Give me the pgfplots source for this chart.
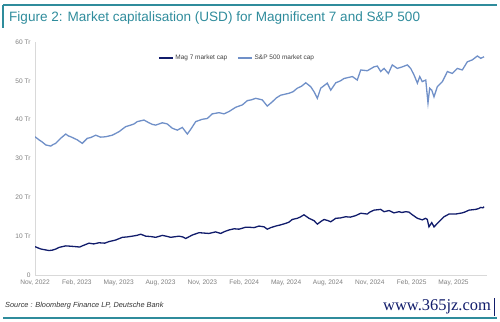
\documentclass[border=0pt]{standalone}
\usepackage{fontspec}
\setmainfont{Liberation Sans}
\newfontfamily\wmfont{Liberation Serif}
\usepackage{pgfplots}
\pgfplotsset{compat=1.18}
\definecolor{teal1}{HTML}{2F8C9C}
\definecolor{navy}{HTML}{111C6B}
\definecolor{spblue}{HTML}{7090C8}
\definecolor{axgray}{HTML}{D9D9D9}
\definecolor{txgray}{HTML}{7F7F7F}
\begin{document}
\begin{tikzpicture}
\useasboundingbox (0bp,0bp) rectangle (500bp,322bp);
% frame
\draw[teal1,line width=1.2bp] (3bp,317bp) -- (497bp,317bp);
\draw[teal1,line width=1.8bp] (3bp,317bp) -- (3bp,294bp);
\draw[teal1,line width=1.2bp] (3bp,4bp) -- (497bp,4bp);
\node[anchor=west,text=teal1,font=\fontsize{13.6}{15}\selectfont,inner sep=0] at (9bp,304bp) {Figure 2: Market capitalisation (USD) for Magnificent 7 and S\&P 500};
\node[anchor=west,font=\fontsize{7.4}{8}\selectfont\itshape,text=black!80,inner sep=0] at (5bp,16bp) {Source : Bloomberg Finance LP, Deutsche Bank};
\node[anchor=east,font=\wmfont\fontsize{16.5}{18}\selectfont,text=navy,inner sep=0] at (491bp,15bp) {www.365jz.com};
\draw[navy,line width=1bp] (494bp,6bp) -- (494bp,24bp);
\begin{axis}[
  at={(35bp,47bp)}, anchor=south west,
  scale only axis, width=452bp, height=233bp,
  xmin=0, xmax=32.4, ymin=0, ymax=60,
  axis x line*=bottom, axis y line*=left,
  axis line style={axgray, line width=0.6bp},
  xtick={0,3,...,30},
  xticklabels={{Nov, 2022},{Feb, 2023},{May, 2023},{Aug, 2023},{Nov, 2023},{Feb, 2024},{May, 2024},{Aug, 2024},{Nov, 2024},{Feb, 2025},{May, 2025}},
  ytick={0,10,...,60},
  yticklabels={0,10 Tr,20 Tr,30 Tr,40 Tr,50 Tr,60 Tr},
  tick style={draw=none},
  ticklabel style={font=\fontsize{6.6}{7}\selectfont, text=txgray},
  /pgf/number format/assume math mode=true,
  xticklabel style={yshift=-1bp},
  yticklabel style={xshift=-1bp},
  legend columns=2,
  legend style={at={(0.447,0.931)}, anchor=center, draw=none, fill=none,
    font=\fontsize{6.5}{7}\selectfont, text=black!75,
    /tikz/every even column/.append style={column sep=8bp}},
  legend image code/.code={\draw[#1,line width=1.4bp] (0,0) -- (14bp,0);},
]
\addplot[navy, line width=1.3bp] coordinates {
(0,7.3)(0.2,7.0)(0.41,6.7)(0.7,6.5)(1.00,6.3)(1.24,6.4)(1.5,6.7)(1.72,7.1)(2.20,7.5)(2.6,7.4)(2.92,7.3)(3.2,7.2)(3.39,7.5)(3.87,8.2)(4.2,8.0)(4.59,8.3)(5.0,8.2)(5.30,8.6)(5.78,9.0)(6.26,9.7)(6.6,9.8)(6.97,10.0)(7.3,10.2)(7.58,10.5)(7.94,10.0)(8.3,9.9)(8.65,9.7)(9.13,10.2)(9.4,10.0)(9.73,9.7)(10.32,10.0)(10.6,9.8)(10.80,9.4)(11.28,10.3)(11.76,10.9)(12.1,10.8)(12.47,10.7)(12.95,11.1)(13.31,10.7)(13.6,11.2)(13.91,11.6)(14.27,11.9)(14.62,11.8)(15.10,12.3)(15.34,12.3)(15.7,12.2)(16.06,12.6)(16.42,12.4)(16.65,11.8)(16.9,12.2)(17.25,12.6)(17.6,12.9)(17.97,13.3)(18.2,13.6)(18.44,14.3)(18.80,14.6)(19.0,14.9)(19.28,15.5)(19.64,14.6)(20.00,14.0)(20.24,13.1)(20.5,13.8)(20.72,14.3)(21.0,14.0)(21.20,13.7)(21.56,14.6)(21.9,14.7)(22.27,15.0)(22.6,14.9)(22.99,15.3)(23.35,15.9)(23.82,15.7)(24.0,16.2)(24.30,16.7)(24.78,16.9)(25.02,16.3)(25.38,16.6)(25.73,16.0)(26.09,16.3)(26.3,16.1)(26.57,16.3)(26.8,16.2)(27.05,15.5)(27.41,14.6)(27.76,14.2)(28.0,14.6)(28.12,14.3)(28.24,12.4)(28.44,13.5)(28.60,12.4)(28.96,13.7)(29.32,15.0)(29.68,15.7)(30.16,15.7)(30.63,16.0)(30.8,16.2)(31.11,16.7)(31.59,16.9)(31.8,17.1)(31.95,17.4)(32.1,17.3)(32.19,17.6)
};
\addlegendentry{Mag 7 market cap}
\addplot[spblue, line width=1.3bp] coordinates {
(0,35.6)(0.29,34.8)(0.5,34.3)(0.77,33.5)(1.13,33.2)(1.3,33.6)(1.48,33.9)(1.84,35.2)(2.20,36.3)(2.4,35.8)(2.56,35.6)(3.03,34.8)(3.39,33.9)(3.75,35.2)(4.0,35.4)(4.35,36.0)(4.7,35.5)(5.07,35.6)(5.3,35.8)(5.54,36.0)(6.02,36.9)(6.50,38.2)(6.86,38.6)(7.1,38.9)(7.33,39.5)(7.81,39.9)(8.17,39.2)(8.4,38.8)(8.65,38.6)(9.13,39.2)(9.48,38.9)(9.84,37.8)(10.20,37.3)(10.56,38.0)(10.92,36.3)(11.16,37.5)(11.52,39.5)(11.99,40.1)(12.35,40.3)(12.71,41.5)(13.19,41.8)(13.55,41.5)(13.91,42.1)(14.39,43.2)(14.86,43.8)(15.22,44.9)(15.5,45.1)(15.82,45.5)(16.29,45.1)(16.65,43.5)(17.01,44.6)(17.3,45.6)(17.61,46.3)(18.21,46.8)(18.5,47.2)(18.80,48.1)(19.1,48.6)(19.41,49.5)(19.76,48.5)(20.00,47.2)(20.24,45.5)(20.48,48.1)(20.95,49.4)(21.20,47.6)(21.56,49.5)(21.9,50.0)(22.15,50.6)(22.75,51.1)(23.10,50.2)(23.35,52.8)(23.82,52.6)(24.30,53.6)(24.54,53.8)(24.78,52.4)(25.02,53.2)(25.33,51.9)(25.61,54.1)(25.97,53.2)(26.33,53.6)(26.69,54.1)(26.93,53.2)(27.17,51.5)(27.41,49.4)(27.58,51.1)(27.76,49.8)(28.01,50.2)(28.17,44.3)(28.29,48.1)(28.44,47.6)(28.60,45.9)(28.84,48.5)(29.20,49.8)(29.56,52.4)(29.91,51.9)(30.27,53.2)(30.63,52.8)(30.99,54.9)(31.35,55.4)(31.71,56.4)(31.95,55.8)(32.19,56.2)
};
\addlegendentry{S\&P 500 market cap}
\end{axis}
\end{tikzpicture}
\end{document}
